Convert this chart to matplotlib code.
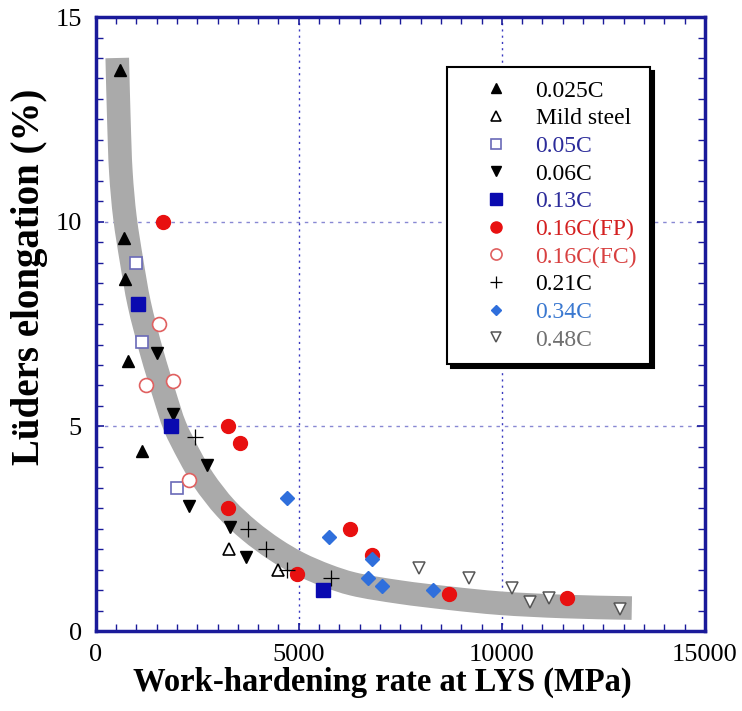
import matplotlib
matplotlib.use("Agg")
import numpy as np
import matplotlib.pyplot as plt
from matplotlib.ticker import MultipleLocator
from matplotlib.path import Path
from matplotlib.patches import PathPatch

# ---- data ----
x_0025 = [600, 700, 720, 800, 1150]
y_0025 = [13.7, 9.6, 8.6, 6.6, 4.4]

x_mild = [3280, 4500]
y_mild = [2.0, 1.5]

x_005 = [1000, 1150, 2000]
y_005 = [9.0, 7.05, 3.5]

x_006 = [1500, 1900, 2750, 2300, 3300, 3700]
y_006 = [6.8, 5.3, 4.05, 3.05, 2.55, 1.8]

x_013 = [1030, 1850, 5600]
y_013 = [8.0, 5.0, 1.0]

x_016fp = [1650, 3250, 3550, 3250, 4950, 6250, 6800, 8700, 11600]
y_016fp = [10.0, 5.0, 4.6, 3.0, 1.4, 2.5, 1.85, 0.9, 0.8]

x_016fc = [1550, 1250, 1900, 2300]
y_016fc = [7.5, 6.0, 6.1, 3.7]

x_021 = [2450, 3750, 4200, 4700, 5800]
y_021 = [4.75, 2.5, 2.0, 1.5, 1.3]

x_034 = [4700, 5750, 6800, 6700, 7050, 8300]
y_034 = [3.25, 2.3, 1.75, 1.3, 1.1, 1.0]

x_048 = [7950, 9200, 10250, 10700, 11150, 12900]
y_048 = [1.55, 1.3, 1.05, 0.7, 0.8, 0.55]

# grey trend band (centre line)
band_x = [530, 570, 620, 720, 890, 1070, 1380, 1700, 1950, 2300, 2650, 3200,
          3790, 4400, 5000, 5700, 6330, 7490, 8720, 9950, 11500, 13200]
band_y = [14.0, 12.5, 11.2, 10.1, 9.0, 8.0, 6.8, 5.75, 5.0, 4.3, 3.7, 3.0,
          2.45, 2.0, 1.65, 1.35, 1.15, 0.95, 0.8, 0.68, 0.6, 0.56]

labels = ["0.025C", "Mild steel", "0.05C", "0.06C", "0.13C",
          "0.16C(FP)", "0.16C(FC)", "0.21C", "0.34C", "0.48C"]
label_colors = ["black", "black", "#2b2b9a", "black", "#2b2b9a",
                "#d42020", "#d84040", "black", "#3a78d0", "#707070"]

x_ticks = [0, 5000, 10000, 15000]
y_ticks = [0, 5, 10, 15]

# ---- figure ----
plt.rcParams['font.family'] = ['Liberation Serif', 'DejaVu Serif']
fig = plt.figure(figsize=(7.42, 7.11), dpi=100)
ax = fig.add_axes([0.129, 0.1125, 0.821, 0.8635])

navy = "#1a1a9a"
XMAX, YMAX = 15000, 15
ax.set_xlim(0, XMAX)
ax.set_ylim(0, YMAX)

# grid
for gx in [5000, 10000]:
    ax.axvline(gx, color="#3a3ac0", lw=1.0, ls=(0, (1.5, 3)), zorder=1)
for gy in [5, 10]:
    ax.axhline(gy, color="#6a6ac8", lw=1.0, ls=(0, (2.5, 3.5)), zorder=1, alpha=0.8)

# smooth band: centripetal Catmull-Rom -> cubic Bezier path (drawn by matplotlib)
P = np.column_stack([np.array(band_x) / XMAX, np.array(band_y) / YMAX])
P = np.vstack([2 * P[0] - P[1], P, 2 * P[-1] - P[-2]])
verts = [P[1]]
codes = [Path.MOVETO]
for i in range(1, len(P) - 2):
    p0, p1, p2, p3 = P[i - 1], P[i], P[i + 1], P[i + 2]
    d1 = np.linalg.norm(p1 - p0) ** 0.5
    d2 = np.linalg.norm(p2 - p1) ** 0.5
    d3 = np.linalg.norm(p3 - p2) ** 0.5
    c1 = (d1 ** 2 * p2 - d2 ** 2 * p0 + (2 * d1 ** 2 + 3 * d1 * d2 + d2 ** 2) * p1) / (3 * d1 * (d1 + d2))
    c2 = (d3 ** 2 * p1 - d2 ** 2 * p3 + (2 * d3 ** 2 + 3 * d3 * d2 + d2 ** 2) * p2) / (3 * d3 * (d3 + d2))
    verts += [c1, c2, p2]
    codes += [Path.CURVE4] * 3
verts = np.array(verts) * np.array([XMAX, YMAX])
band = PathPatch(Path(verts, codes), fill=False, edgecolor="#aaaaaa", lw=17,
                 capstyle="butt", joinstyle="round", zorder=2)
ax.add_patch(band)

series = [
    (x_0025, y_0025, dict(marker="^", ms=9, mfc="black", mec="black")),
    (x_mild, y_mild, dict(marker="^", ms=9, mfc="white", mec="black", mew=1.2)),
    (x_005, y_005, dict(marker="s", ms=9, mfc="white", mec="#6a6ab8", mew=1.2)),
    (x_006, y_006, dict(marker="v", ms=9, mfc="black", mec="black")),
    (x_013, y_013, dict(marker="s", ms=10, mfc="#0a0ab0", mec="#0a0ab0")),
    (x_016fp, y_016fp, dict(marker="o", ms=10, mfc="#e81010", mec="#e81010")),
    (x_016fc, y_016fc, dict(marker="o", ms=10, mfc="white", mec="#e06060", mew=1.2)),
    (x_021, y_021, dict(marker="+", ms=11, mec="black", mew=0.9)),
    (x_034, y_034, dict(marker="D", ms=7, mfc="#2f6fdc", mec="#2f6fdc")),
    (x_048, y_048, dict(marker="v", ms=9, mfc="white", mec="#555555", mew=1.1)),
]
handles = []
for (xs, ys, kw), lab in zip(series, labels):
    h, = ax.plot(xs, ys, ls="none", label=lab, zorder=3, **kw)
    handles.append(h)

# axes styling
for sp in ax.spines.values():
    sp.set_color(navy)
    sp.set_linewidth(2.5)
ax.set_xticks(x_ticks)
ax.set_yticks(y_ticks)
ax.xaxis.set_minor_locator(MultipleLocator(500))
ax.yaxis.set_minor_locator(MultipleLocator(0.5))
ax.tick_params(which="both", direction="in", top=True, right=True,
               color=navy, labelsize=19, labelcolor="black")
ax.tick_params(which="major", length=6, width=1.2)
ax.tick_params(axis="x", which="major", pad=9)
ax.tick_params(axis="y", which="major", pad=10)
ax.tick_params(which="minor", length=5, width=1.0)

ax.set_xlabel("Work-hardening rate at LYS (MPa)", fontsize=23.5, fontweight="bold")
ax.set_ylabel("Lüders elongation (%)", fontsize=28, fontweight="bold")
ax.xaxis.set_label_coords(0.471, -0.0585)
ax.yaxis.set_label_coords(-0.078, 0.577)

leg = ax.legend(handles=handles, loc="upper left",
                bbox_to_anchor=(0.576, 0.9186), fontsize=17,
                frameon=True, fancybox=False, edgecolor="black",
                shadow={"color": "black", "alpha": 1.0, "ox": 3, "oy": -3},
                markerscale=0.8, handlelength=3.05, handletextpad=0.17,
                labelspacing=0.26, borderpad=0.55, borderaxespad=0)
leg.get_frame().set_linewidth(1.5)
for t, c in zip(leg.get_texts(), label_colors):
    t.set_color(c)

fig.savefig("out.png", dpi=100, facecolor="white")
